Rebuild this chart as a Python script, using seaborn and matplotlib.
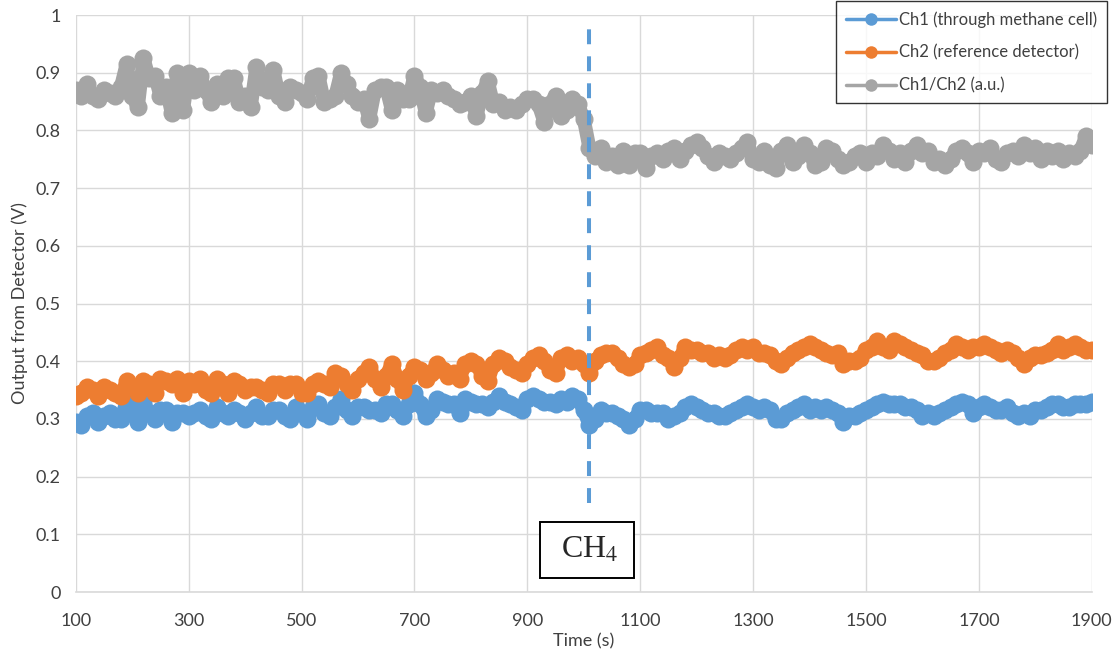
import numpy as np
import pandas as pd
import matplotlib
matplotlib.use("Agg")
import matplotlib.pyplot as plt
from matplotlib.lines import Line2D
import seaborn as sns

# ---------------- data ----------------
time_s = list(range(100, 1901, 10))

ch1 = [0.295, 0.29, 0.305, 0.31, 0.295, 0.305, 0.31, 0.30, 0.30, 0.33,
       0.31, 0.295, 0.33, 0.31, 0.30, 0.315, 0.315, 0.295, 0.31, 0.31,
       0.305, 0.31, 0.315, 0.305, 0.30, 0.32, 0.31, 0.305, 0.315, 0.31,
       0.30, 0.31, 0.32, 0.305, 0.305, 0.315, 0.315, 0.305, 0.30, 0.32,
       0.31, 0.30, 0.32, 0.325, 0.31, 0.305, 0.32, 0.335, 0.315, 0.305,
       0.32, 0.32, 0.315, 0.315, 0.31, 0.325, 0.325, 0.315, 0.305, 0.325,
       0.345, 0.325, 0.305, 0.315, 0.335, 0.33, 0.325, 0.325, 0.31, 0.335,
       0.33, 0.325, 0.325, 0.32, 0.33, 0.34, 0.33, 0.325, 0.32, 0.315,
       0.335, 0.34, 0.335, 0.33, 0.33, 0.325, 0.335, 0.33, 0.34, 0.335,
       0.315, 0.29, 0.30, 0.315, 0.31, 0.31, 0.305, 0.30, 0.29, 0.30,
       0.315, 0.315, 0.31, 0.31, 0.31, 0.30, 0.305, 0.31, 0.32, 0.325,
       0.32, 0.315, 0.31, 0.31, 0.305, 0.305, 0.31, 0.315, 0.32, 0.325,
       0.32, 0.315, 0.32, 0.315, 0.30, 0.30, 0.31, 0.315, 0.32, 0.325,
       0.315, 0.32, 0.315, 0.32, 0.315, 0.31, 0.295, 0.305, 0.305, 0.31,
       0.315, 0.32, 0.325, 0.33, 0.325, 0.325, 0.325, 0.32, 0.32, 0.315,
       0.305, 0.31, 0.305, 0.31, 0.315, 0.32, 0.325, 0.33, 0.325, 0.31,
       0.32, 0.325, 0.32, 0.315, 0.315, 0.32, 0.31, 0.305, 0.31, 0.305,
       0.315, 0.315, 0.32, 0.325, 0.325, 0.32, 0.32, 0.325, 0.325, 0.325, 0.33]

ch2 = [0.34, 0.345, 0.355, 0.35, 0.34, 0.355, 0.35, 0.345, 0.34, 0.365,
       0.355, 0.345, 0.365, 0.36, 0.345, 0.37, 0.365, 0.36, 0.37, 0.345,
       0.365, 0.36, 0.37, 0.35, 0.345, 0.37, 0.36, 0.345, 0.365, 0.36,
       0.35, 0.355, 0.355, 0.35, 0.345, 0.36, 0.36, 0.35, 0.36, 0.36,
       0.345, 0.345, 0.36, 0.365, 0.36, 0.355, 0.38, 0.375, 0.36, 0.35,
       0.37, 0.38, 0.39, 0.37, 0.355, 0.375, 0.395, 0.37, 0.35, 0.375,
       0.39, 0.385, 0.37, 0.38, 0.395, 0.385, 0.375, 0.38, 0.37, 0.395,
       0.40, 0.395, 0.375, 0.365, 0.395, 0.405, 0.40, 0.39, 0.385, 0.38,
       0.395, 0.405, 0.41, 0.40, 0.385, 0.38, 0.405, 0.41, 0.40, 0.405,
       0.395, 0.38, 0.40, 0.41, 0.415, 0.415, 0.405, 0.395, 0.39, 0.395,
       0.41, 0.415, 0.42, 0.425, 0.41, 0.405, 0.39, 0.405, 0.425, 0.42,
       0.42, 0.415, 0.415, 0.405, 0.41, 0.405, 0.41, 0.42, 0.425, 0.42,
       0.425, 0.415, 0.415, 0.41, 0.40, 0.395, 0.405, 0.415, 0.42, 0.425,
       0.43, 0.425, 0.42, 0.415, 0.41, 0.415, 0.395, 0.40, 0.40, 0.405,
       0.42, 0.425, 0.435, 0.425, 0.42, 0.435, 0.43, 0.425, 0.42, 0.415,
       0.41, 0.40, 0.40, 0.405, 0.415, 0.42, 0.43, 0.425, 0.42, 0.425,
       0.425, 0.43, 0.425, 0.42, 0.415, 0.42, 0.415, 0.405, 0.395, 0.405,
       0.41, 0.41, 0.415, 0.42, 0.43, 0.42, 0.425, 0.43, 0.425, 0.42, 0.42]

ratio = [0.87, 0.86, 0.88, 0.86, 0.855, 0.87, 0.865, 0.86, 0.875, 0.915,
         0.86, 0.84, 0.925, 0.89, 0.895, 0.86, 0.875, 0.83, 0.90, 0.835,
         0.90, 0.87, 0.895, 0.87, 0.85, 0.88, 0.86, 0.89, 0.89, 0.85,
         0.86, 0.84, 0.91, 0.875, 0.87, 0.905, 0.86, 0.85, 0.875, 0.87,
         0.865, 0.855, 0.89, 0.895, 0.85, 0.855, 0.86, 0.90, 0.88, 0.86,
         0.85, 0.855, 0.82, 0.87, 0.875, 0.875, 0.835, 0.87, 0.855, 0.855,
         0.895, 0.875, 0.83, 0.87, 0.865, 0.87, 0.86, 0.855, 0.845, 0.85,
         0.86, 0.825, 0.865, 0.885, 0.845, 0.85, 0.835, 0.84, 0.835, 0.845,
         0.855, 0.855, 0.845, 0.815, 0.845, 0.86, 0.825, 0.835, 0.855, 0.845,
         0.82, 0.77, 0.755, 0.77, 0.745, 0.755, 0.74, 0.765, 0.74, 0.76,
         0.76, 0.735, 0.755, 0.76, 0.75, 0.765, 0.77, 0.75, 0.765, 0.775,
         0.78, 0.77, 0.755, 0.745, 0.76, 0.755, 0.75, 0.76, 0.77, 0.78,
         0.75, 0.745, 0.765, 0.74, 0.735, 0.765, 0.775, 0.745, 0.755, 0.775,
         0.76, 0.74, 0.745, 0.77, 0.765, 0.75, 0.74, 0.745, 0.755, 0.76,
         0.745, 0.76, 0.755, 0.775, 0.765, 0.75, 0.76, 0.745, 0.765, 0.775,
         0.76, 0.765, 0.745, 0.75, 0.74, 0.75, 0.765, 0.77, 0.76, 0.745,
         0.765, 0.76, 0.77, 0.75, 0.745, 0.76, 0.765, 0.755, 0.775, 0.76,
         0.77, 0.75, 0.765, 0.755, 0.765, 0.75, 0.76, 0.755, 0.765, 0.79, 0.775]

series_names = ["Ch1 (through methane cell)", "Ch2 (reference detector)", "Ch1/Ch2 (a.u.)"]
series_colors = ["#5B9BD5", "#ED7D31", "#A5A5A5"]
x_ticks = [100, 300, 500, 700, 900, 1100, 1300, 1500, 1700, 1900]
y_ticks = [0, 0.1, 0.2, 0.3, 0.4, 0.5, 0.6, 0.7, 0.8, 0.9, 1]
y_tick_labels = ["0", "0.1", "0.2", "0.3", "0.4", "0.5", "0.6", "0.7", "0.8", "0.9", "1"]
event_time = 1010
event_label = "CH$_4$"

# ---------------- build frame ----------------
df = pd.concat([
    pd.DataFrame({"Time": time_s, "Value": vals, "Series": name})
    for name, vals in zip(series_names, [ch1, ch2, ratio])
], ignore_index=True)

sns.set_theme(style="white")
plt.rcParams["font.family"] = ["Lato", "DejaVu Sans"]
plt.rcParams["mathtext.fontset"] = "stix"

fig = plt.figure(figsize=(11.14, 6.53), dpi=100)
ax = fig.add_axes([0.068, 0.0934, 0.912, 0.8836])

sns.lineplot(data=df, x="Time", y="Value", hue="Series", hue_order=series_names,
             palette=series_colors, marker="o", markersize=13, markeredgewidth=0,
             linewidth=10, ax=ax, legend=False, sort=False)

ax.set_xlim(100, 1900)
ax.set_ylim(0, 1)
ax.set_xticks(x_ticks)
ax.set_yticks(y_ticks)
ax.set_yticklabels(y_tick_labels)
ax.tick_params(axis="both", length=0, labelsize=13, colors="#404040")
ax.tick_params(axis="x", pad=15)
ax.tick_params(axis="y", pad=11)
ax.grid(True, color="#D9D9D9", linewidth=1)
ax.set_axisbelow(True)
for side in ["left", "right", "top"]:
    ax.spines[side].set_visible(False)
ax.spines["bottom"].set_color("#D9D9D9")
ax.spines["bottom"].set_linewidth(1.2)

ax.set_xlabel("Time (s)", fontsize=13, color="#404040", labelpad=3)
ax.set_ylabel("Output from Detector (V)", fontsize=13, color="#404040", labelpad=5)

# event marker
ax.vlines(event_time, 0.155, 0.977, colors="#5B9BD5", linewidth=2.9,
          linestyles=[(0, (3.7, 3.0))], zorder=5)
ax.text(event_time - 4, 0.073, " " + event_label + " ", fontsize=23, family="Liberation Serif",
        ha="center", va="center", zorder=6,
        bbox=dict(boxstyle="square,pad=0.42", facecolor="white", edgecolor="black", linewidth=1.4))

# legend
handles = [Line2D([0], [0], color=c, linewidth=2.5, marker="o", markersize=9,
                  markeredgewidth=0) for c in series_colors]
leg = fig.legend(handles, series_names, loc="upper right",
                 bbox_to_anchor=(0.994, 0.998), bbox_transform=fig.transFigure,
                 frameon=True, fancybox=False, fontsize=12, handlelength=3.0,
                 labelspacing=1.0, borderpad=0.6, handletextpad=0.2, borderaxespad=0)
leg.get_frame().set_edgecolor("black")
leg.get_frame().set_linewidth(1)
for t in leg.get_texts():
    t.set_color("#404040")

fig.savefig("out.png", dpi=100)
